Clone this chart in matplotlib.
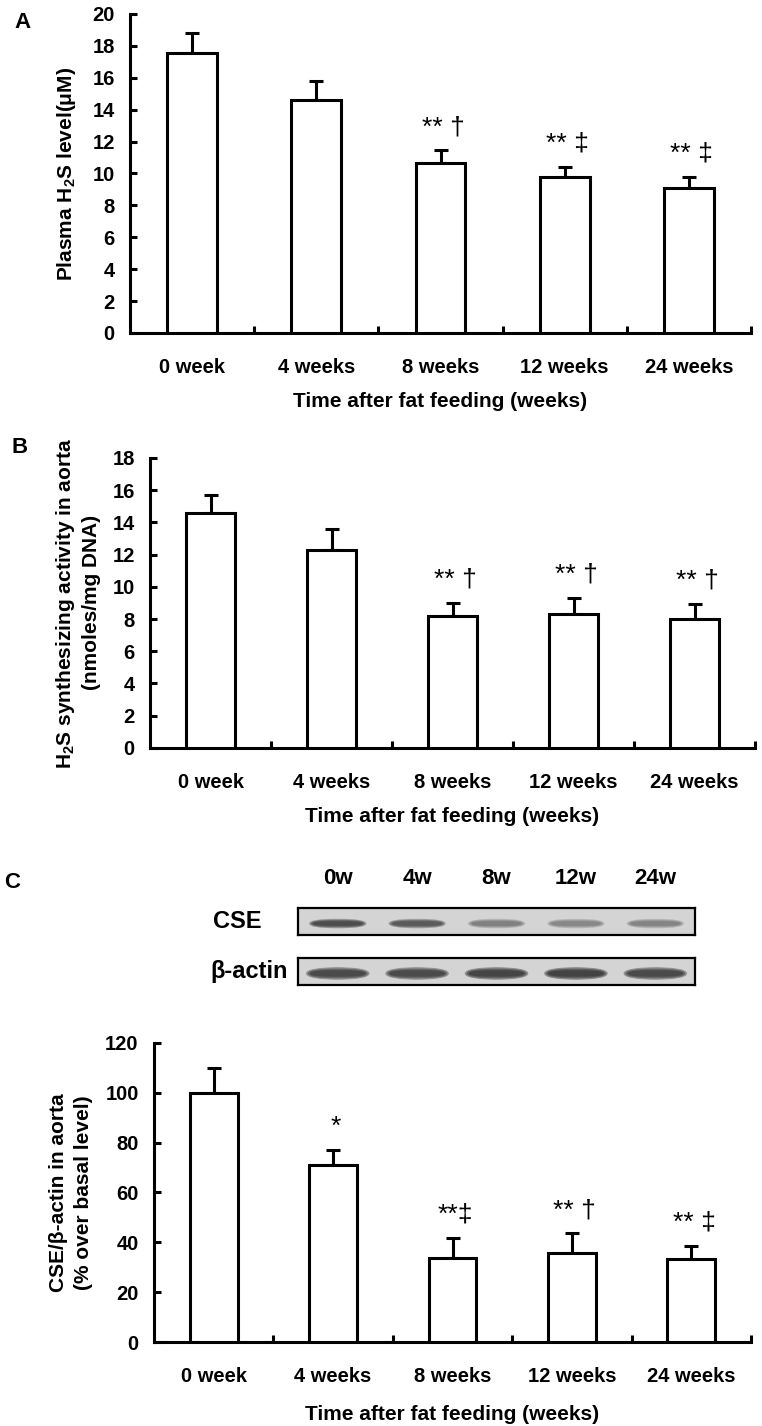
import numpy as np
import matplotlib
matplotlib.use("Agg")
import matplotlib.pyplot as plt
from matplotlib.patches import FancyBboxPatch

plt.rcParams['font.family'] = ['Liberation Sans', 'DejaVu Sans']
plt.rcParams['font.weight'] = 'bold'
plt.rcParams['axes.labelweight'] = 'bold'
plt.rcParams['mathtext.fontset'] = 'custom'
plt.rcParams['mathtext.rm'] = 'Liberation Sans:bold'
plt.rcParams['mathtext.it'] = 'Liberation Sans:bold'
plt.rcParams['mathtext.bf'] = 'Liberation Sans:bold'
plt.rcParams['mathtext.default'] = 'rm'

# data
groups = ['0 week', '4 weeks', '8 weeks', '12 weeks', '24 weeks']

plasma_mean = [17.55, 14.6, 10.65, 9.8, 9.1]
plasma_err = [1.25, 1.2, 0.8, 0.6, 0.7]
plasma_marks = ['', '', '** \u2020', '** \u2021', '** \u2021']

aorta_mean = [14.6, 12.3, 8.2, 8.3, 8.0]
aorta_err = [1.1, 1.3, 0.8, 1.0, 0.95]
aorta_marks = ['', '', '** \u2020', '** \u2020', '** \u2020']

cse_mean = [100, 71, 33.8, 35.8, 33.2]
cse_err = [10, 6, 8, 7.8, 5.4]
cse_marks = ['', '*', '**\u2021', '** \u2020', '** \u2021']

# western blot lanes and rough band darkness
lanes = ['0w', '4w', '8w', '12w', '24w']
cse_band = [0.88, 0.75, 0.45, 0.4, 0.42]
actin_band = [0.92, 0.9, 0.97, 1.0, 0.92]

LW = 2.2
FS = 15
TS = 14.5

fig = plt.figure(figsize=(7.62, 14.26), dpi=100)


def bar_panel(rect, means, errs, marks, ymax, ylabel, lpad):
    ax = fig.add_axes(rect)
    x = np.arange(len(means))
    ax.errorbar(x, means, yerr=[np.zeros(len(errs)), errs], fmt='none',
                ecolor='black', elinewidth=LW, capsize=5, capthick=LW, zorder=2)
    ax.bar(x, means, width=0.4, color='white', edgecolor='black',
           linewidth=LW, zorder=3)
    for i in range(len(means)):
        if marks[i]:
            ax.annotate(marks[i], xy=(x[i], means[i] + errs[i]),
                        xytext=(2, 8), textcoords='offset points',
                        ha='center', va='bottom', fontsize=19,
                        fontweight='normal')
    ax.set_xlim(-0.5, len(means) - 0.5)
    ax.set_ylim(0, ymax)
    for s in ['top', 'right']:
        ax.spines[s].set_visible(False)
    for s in ['left', 'bottom']:
        ax.spines[s].set_linewidth(LW)
    ax.set_xticks(x + 0.5)
    ax.set_xticklabels([])
    ax.set_xticks(x, minor=True)
    ax.set_xticklabels(groups, minor=True, fontsize=TS)
    ax.tick_params(axis='x', which='major', direction='in', length=5, width=LW)
    ax.tick_params(axis='x', which='minor', length=0, pad=18)
    ax.tick_params(axis='y', direction='in', length=5, width=LW, pad=11,
                   labelsize=TS)
    ax.set_xlabel('Time after fat feeding (weeks)', fontsize=FS, labelpad=11)
    ax.set_ylabel(ylabel, fontsize=FS, labelpad=lpad, linespacing=1.35)
    return ax


axA = bar_panel([0.1706, 0.7665, 0.8150, 0.2237], plasma_mean, plasma_err,
                plasma_marks, 20, 'Plasma H$_2$S level(\u03bcM)', 10)
axA.set_yticks(np.arange(0, 21, 2))

axB = bar_panel([0.1969, 0.4755, 0.7940, 0.2034], aorta_mean, aorta_err,
                aorta_marks, 18,
                'H$_2$S synthesizing activity in aorta\n(nmoles/mg DNA)', 8)
axB.set_yticks(np.arange(0, 19, 2))

axC = bar_panel([0.2021, 0.0589, 0.7835, 0.2097], cse_mean, cse_err,
                cse_marks, 120,
                'CSE/\u03b2-actin in aorta\n(% over basal level)', 9)
axC.set_yticks(np.arange(0, 121, 20))
axC.xaxis.labelpad = 14


# blot strips
def blot(rect, dark, bw, bh, label, lx):
    ax = fig.add_axes(rect)
    ax.set_facecolor('#d4d4d4')
    ax.set_xlim(-0.5, len(dark) - 0.5)
    ax.set_ylim(-1, 1)
    for s in ax.spines.values():
        s.set_linewidth(1.6)
    for i in range(len(dark)):
        for k, sc in enumerate([1.0, 0.75, 0.5]):
            w = bw * (1 - 0.06 * k)
            h = bh * sc
            ax.add_patch(FancyBboxPatch((i - w / 2, -0.15 - h / 2), w, h,
                                        boxstyle='round,pad=0,rounding_size=%g' % (h / 2),
                                        mutation_aspect=1, color='#1c1c1c',
                                        alpha=dark[i] * 0.4, lw=0))
    ax.set_yticks([])
    ax.set_xticks([])
    ax.text(lx, 0.5, label, transform=ax.transAxes, ha='right', va='center',
            fontsize=17)
    return ax


axS = blot([0.3911, 0.3443, 0.5210, 0.01893], cse_band, 0.72, 0.7, 'CSE', -0.091)
axS.set_xticks(np.arange(len(lanes)))
axS.set_xticklabels(lanes, fontsize=16)
axS.xaxis.tick_top()
axS.tick_params(axis='x', length=0, pad=14)
blot([0.3911, 0.3093, 0.5210, 0.01893], actin_band, 0.8, 0.95,
     '\u03b2-actin', -0.025)

# panel letters
fig.text(0.029, 0.9845, 'A', fontsize=16, ha='center', va='center')
fig.text(0.026, 0.6865, 'B', fontsize=16, ha='center', va='center')
fig.text(0.016, 0.381, 'C', fontsize=16, ha='center', va='center')

fig.savefig('out.png', dpi=100)
